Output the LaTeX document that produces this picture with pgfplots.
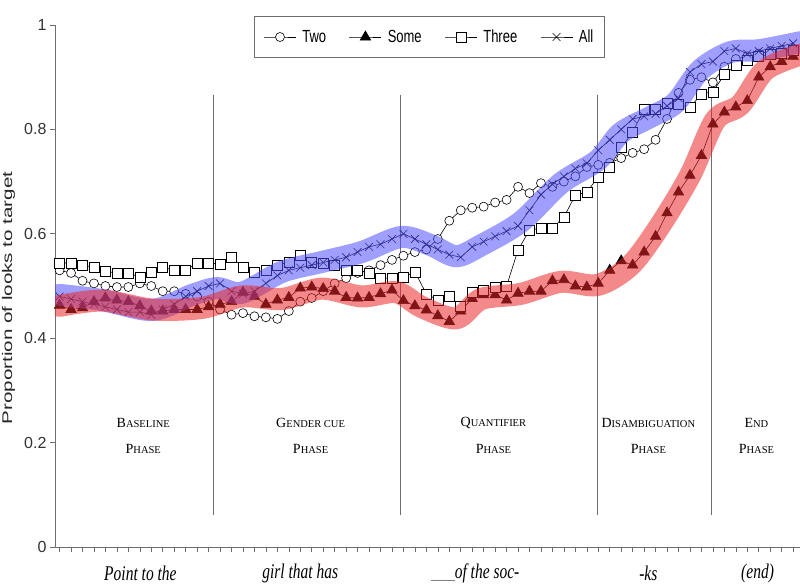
\documentclass[border=0pt]{standalone}
\usepackage{pgfplots}
\pgfplotsset{compat=1.18}
\usepackage{pgfplotstable}
\usepackage{graphicx}
\usepackage{fontspec}
\setmainfont{Liberation Sans}
\newfontfamily\seriffont{Liberation Serif}
\definecolor{bandblue}{RGB}{80,80,255}
\definecolor{bandred}{RGB}{235,40,40}
\definecolor{axgray}{RGB}{110,110,110}
\newcommand\psc[2]{{\fontsize{14}{14}\selectfont #1}{\fontsize{10.5}{10.5}\selectfont #2}}

\pgfplotstableread{
x two some three all
0 0.530 0.463 0.544 0.480
1 0.525 0.455 0.544 0.475
2 0.510 0.458 0.540 0.470
3 0.505 0.470 0.536 0.465
4 0.500 0.477 0.528 0.460
5 0.498 0.473 0.525 0.455
6 0.498 0.470 0.525 0.450
7 0.505 0.462 0.517 0.450
8 0.500 0.452 0.527 0.445
9 0.490 0.452 0.536 0.455
10 0.490 0.455 0.530 0.465
11 0.485 0.455 0.530 0.480
12 0.480 0.455 0.544 0.490
13 0.470 0.460 0.544 0.500
14 0.455 0.465 0.542 0.505
15 0.445 0.470 0.555 0.490
16 0.448 0.488 0.536 0.485
17 0.442 0.480 0.527 0.490
18 0.440 0.465 0.530 0.505
19 0.437 0.473 0.540 0.520
20 0.452 0.478 0.546 0.530
21 0.470 0.496 0.558 0.535
22 0.477 0.498 0.546 0.540
23 0.490 0.495 0.543 0.545
24 0.505 0.490 0.540 0.550
25 0.515 0.478 0.530 0.555
26 0.525 0.477 0.530 0.565
27 0.530 0.478 0.525 0.575
28 0.540 0.485 0.515 0.580
29 0.550 0.492 0.515 0.590
30 0.558 0.472 0.517 0.600
31 0.565 0.462 0.527 0.590
32 0.570 0.454 0.485 0.580
33 0.590 0.443 0.473 0.570
34 0.625 0.432 0.480 0.560
35 0.645 0.452 0.462 0.555
36 0.650 0.476 0.488 0.575
37 0.652 0.483 0.492 0.585
38 0.660 0.483 0.498 0.595
39 0.665 0.473 0.500 0.605
40 0.690 0.486 0.569 0.615
41 0.678 0.490 0.607 0.645
42 0.697 0.490 0.611 0.675
43 0.690 0.510 0.611 0.695
44 0.700 0.512 0.632 0.710
45 0.710 0.500 0.674 0.725
46 0.728 0.498 0.680 0.735
47 0.732 0.505 0.709 0.760
48 0.736 0.530 0.728 0.780
49 0.745 0.548 0.765 0.800
50 0.755 0.540 0.795 0.820
51 0.762 0.565 0.838 0.825
52 0.780 0.595 0.838 0.830
53 0.820 0.640 0.850 0.845
54 0.870 0.680 0.848 0.860
55 0.895 0.712 0.842 0.910
56 0.900 0.750 0.868 0.925
57 0.890 0.810 0.872 0.930
58 0.920 0.833 0.905 0.950
59 0.935 0.843 0.923 0.955
60 0.940 0.855 0.933 0.945
61 0.945 0.900 0.940 0.950
62 0.950 0.920 0.944 0.955
63 0.952 0.930 0.946 0.960
64 0.955 0.940 0.952 0.965
}\datatable

\begin{document}
\begin{tikzpicture}
\begin{axis}[
  scale only axis, width=745pt, height=522pt,
  xmin=-0.4, xmax=64.6, ymin=0, ymax=1,
  axis x line*=bottom, axis y line*=left,
  axis line style={axgray, line width=0.8pt},
  xtick={0,...,64}, xticklabels={},
  ytick={0,0.2,0.4,0.6,0.8,1}, yticklabels={0,0.2,0.4,0.6,0.8,1},
  tick align=outside, major tick length=5pt,
  tick style={axgray, line width=0.6pt},
  yticklabel style={font=\fontsize{16}{16}\selectfont, text=black!80},
  clip mode=individual,
  legend columns=4,
  legend cell align=left,
  legend style={at={(axis description cs:0.5027,0.977)}, anchor=center,
    draw=axgray, line width=0.8pt, inner xsep=9pt, inner ysep=11pt,
    font=\fontsize{13}{13}\selectfont,
    /tikz/every odd column/.append style={column sep=4pt},
    /tikz/every even column/.append style={column sep=21pt}},
  legend image code/.code={\draw[mark repeat=2,mark phase=2] plot coordinates {(0pt,0pt)(16pt,0pt)(32pt,0pt)};},
]
\coordinate (bbsw) at (axis description cs:-0.07383,-0.07471);
\coordinate (bbne) at (axis description cs:1.0,1.04789);
% phase separators
\addplot[axgray, line width=0.7pt, forget plot] coordinates {(13.45,0.061) (13.45,0.866)};
\addplot[axgray, line width=0.7pt, forget plot] coordinates {(29.72,0.061) (29.72,0.866)};
\addplot[axgray, line width=0.7pt, forget plot] coordinates {(46.92,0.061) (46.92,0.866)};
\addplot[axgray, line width=0.7pt, forget plot] coordinates {(56.85,0.061) (56.85,0.866)};

\addplot[black, line width=0.6pt, mark=*, mark size=4.5pt, mark options={fill=white, solid, line width=0.6pt}] table[x=x,y=two]{\datatable};
\addplot[black, line width=0.6pt, mark=triangle*, mark size=6pt, mark options={solid}] table[x=x,y=some]{\datatable};
\addplot[black, line width=0.6pt, mark=square*, mark size=5pt, mark options={fill=white, solid, line width=0.6pt}] table[x=x,y=three]{\datatable};
\addplot[black, line width=0.6pt, mark=x, mark size=5.5pt, mark options={solid}] table[x=x,y=all]{\datatable};
\legend{\scalebox{1}[1.35]{Two},\scalebox{1}[1.35]{Some},\scalebox{1}[1.35]{Three},\scalebox{1}[1.35]{All}}

% highlight bands
\addplot[bandblue, opacity=0.55, line width=22pt, smooth, tension=0.5, line cap=round, line join=round, forget plot] coordinates {
(0,0.483) (3.74,0.473) (8.09,0.454) (11.57,0.483) (13.74,0.496) (15.91,0.487)
(19.39,0.527) (22.87,0.546) (26.35,0.565) (29.83,0.594) (32.43,0.578) (34.61,0.557)
(36.78,0.578) (40.26,0.623) (43.74,0.697) (46.96,0.741) (48.96,0.793) (51.57,0.824)
(53.74,0.851) (55.91,0.914) (58.52,0.948) (61.13,0.952) (64.6,0.967)};
\addplot[bandred, opacity=0.55, line width=22pt, smooth, tension=0.5, line cap=round, line join=round, forget plot] coordinates {
(0,0.462) (3.74,0.472) (8.09,0.455) (12.43,0.458) (15.91,0.480) (19.39,0.475)
(22.87,0.495) (26.35,0.480) (29.39,0.488) (31.57,0.460) (34.61,0.438) (36.78,0.475)
(40.26,0.485) (43.74,0.508) (46.96,0.502) (49.83,0.540) (52.43,0.617) (55.04,0.713)
(57.22,0.818) (59.39,0.847) (61.57,0.914) (64.6,0.943)};

% phase labels
\node[font=\seriffont] at (axis cs:7.3,0.2375) {\psc{B}{ASELINE}};
\node[font=\seriffont] at (axis cs:7.3,0.1877) {\psc{P}{HASE}};
\node[font=\seriffont] at (axis cs:21.9,0.2375) {\psc{G}{ENDER CUE}};
\node[font=\seriffont] at (axis cs:21.9,0.1877) {\psc{P}{HASE}};
\node[font=\seriffont] at (axis cs:37.85,0.2375) {\psc{Q}{UANTIFIER}};
\node[font=\seriffont] at (axis cs:37.85,0.1877) {\psc{P}{HASE}};
\node[font=\seriffont] at (axis cs:51.37,0.2375) {\psc{D}{ISAMBIGUATION}};
\node[font=\seriffont] at (axis cs:51.37,0.1877) {\psc{P}{HASE}};
\node[font=\seriffont] at (axis cs:60.8,0.2375) {\psc{E}{ND}};
\node[font=\seriffont] at (axis cs:60.8,0.1877) {\psc{P}{HASE}};

% word labels
\node[font=\seriffont\itshape\fontsize{15.5}{15.5}\selectfont] at (axis cs:7.05,-0.051) {\scalebox{1}[1.35]{Point to the}};
\node[font=\seriffont\itshape\fontsize{15.5}{15.5}\selectfont] at (axis cs:21.0,-0.051) {\scalebox{1}[1.35]{girl that has}};
\node[font=\seriffont\itshape\fontsize{15.5}{15.5}\selectfont] at (axis cs:36.25,-0.051) {\scalebox{1}[1.35]{{\color{gray}\rule[-1.5pt]{24pt}{0.8pt}}of the soc-}};
\node[font=\seriffont\itshape\fontsize{15.5}{15.5}\selectfont] at (axis cs:51.37,-0.051) {\scalebox{1}[1.35]{-ks}};
\node[font=\seriffont\itshape\fontsize{15.5}{15.5}\selectfont] at (axis cs:60.9,-0.051) {\scalebox{1}[1.35]{(end)}};

% y label
\node[rotate=90, font=\fontsize{14}{14}\selectfont, text=black!85] at (axis description cs:-0.0624,0.477) {\scalebox{1.47}[1]{Proportion of looks to target}};
\end{axis}
\pgfresetboundingbox
\useasboundingbox (bbsw) rectangle (bbne);
\end{tikzpicture}
\end{document}
